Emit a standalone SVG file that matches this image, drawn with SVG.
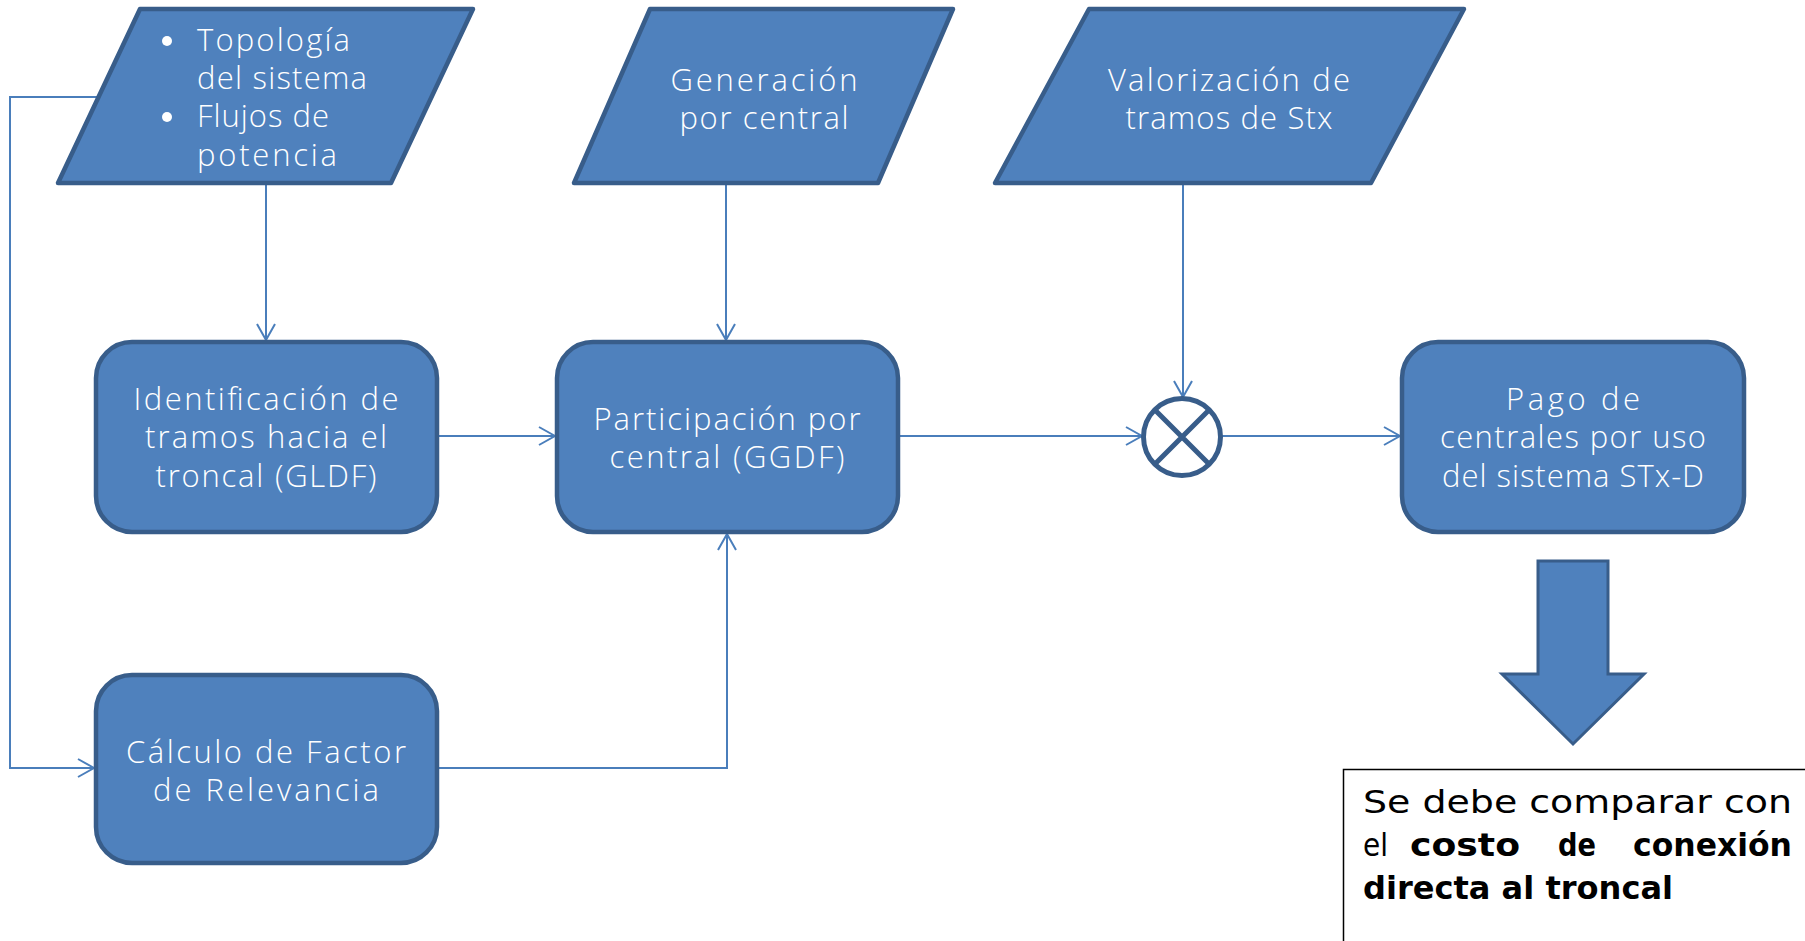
<svg xmlns="http://www.w3.org/2000/svg" width="1805" height="941" viewBox="0 0 1805 941">
  <style>
    .shape { fill: #4F81BD; stroke: #385D8A; stroke-width: 4.5; stroke-linejoin: round; }
    .lbl { font-family: "Open Sans", "Liberation Sans", sans-serif; font-weight: 300; font-size: 31px; fill: #FFFFFF; }
    .mid { text-anchor: middle; }
    .dot { fill: #FFFFFF; }
    .wire { fill: none; stroke: #4A7EBB; stroke-width: 2; }
    .note { font-family: "DejaVu Sans", "Liberation Sans", sans-serif; font-size: 32px; fill: #000000; }
    .b { font-weight: bold; }
  </style>
  <defs>
    <marker id="open" markerUnits="userSpaceOnUse" markerWidth="20" markerHeight="22" viewBox="0 0 20 22" refX="18" refY="11" orient="auto">
      <path d="M2,2 L18,11 L2,20" fill="none" stroke="#4A7EBB" stroke-width="2"/>
    </marker>
  </defs>

  <!-- connectors -->
  <g id="connectors">
    <path class="wire" d="M266,183 V340" marker-end="url(#open)"/>
    <path class="wire" d="M726,183 V340" marker-end="url(#open)"/>
    <path class="wire" d="M1183,183 V397" marker-end="url(#open)"/>
    <path class="wire" d="M437,436 H555" marker-end="url(#open)"/>
    <path class="wire" d="M898,436 H1142" marker-end="url(#open)"/>
    <path class="wire" d="M1221,436 H1400" marker-end="url(#open)"/>
    <path class="wire" d="M98,97 H10 V768 H94" marker-end="url(#open)"/>
    <path class="wire" d="M437,768 H727 V534" marker-end="url(#open)"/>
  </g>

  <!-- input: topology and power flows -->
  <g id="in-topologia">
    <polygon class="shape" points="140,9 473,9 391,183 58,183"/>
    <circle class="dot" cx="167" cy="41" r="5"/>
    <text class="lbl" x="197" y="51" textLength="153">Topología</text>
    <text class="lbl" x="197" y="89" textLength="170">del sistema</text>
    <circle class="dot" cx="167" cy="117" r="5"/>
    <text class="lbl" x="197" y="127" textLength="132">Flujos de</text>
    <text class="lbl" x="197" y="166" textLength="140">potencia</text>
  </g>

  <!-- input: generation per plant -->
  <g id="in-generacion">
    <polygon class="shape" points="650,9 953,9 878,183 574,183"/>
    <text class="lbl mid" x="764" y="91" textLength="187">Generación</text>
    <text class="lbl mid" x="764" y="129" textLength="169">por central</text>
  </g>

  <!-- input: valuation of Stx segments -->
  <g id="in-valorizacion">
    <polygon class="shape" points="1089,9 1464,9 1371,183 995,183"/>
    <text class="lbl mid" x="1229" y="91" textLength="242">Valorización de</text>
    <text class="lbl mid" x="1229" y="129" textLength="207">tramos de Stx</text>
  </g>

  <g id="gldf">
    <rect class="shape" x="96" y="342" width="341" height="190" rx="36" ry="36"/>
    <text class="lbl mid" x="266" y="410" textLength="265">Identificación de</text>
    <text class="lbl mid" x="266" y="448" textLength="242">tramos hacia el</text>
    <text class="lbl mid" x="266" y="487" textLength="221">troncal (GLDF)</text>
  </g>

  <g id="ggdf">
    <rect class="shape" x="557" y="342" width="341" height="190" rx="36" ry="36"/>
    <text class="lbl mid" x="727" y="430" textLength="267">Participación por</text>
    <text class="lbl mid" x="727" y="468" textLength="235">central (GGDF)</text>
  </g>

  <g id="producto">
    <circle cx="1182" cy="437" r="38.5" fill="#FFFFFF" stroke="#385D8A" stroke-width="5"/>
    <path d="M1155,410 L1209,464 M1209,410 L1155,464" stroke="#385D8A" stroke-width="5"/>
  </g>

  <g id="pago">
    <rect class="shape" x="1402" y="342" width="342" height="190" rx="36" ry="36"/>
    <text class="lbl mid" x="1573" y="410" textLength="134">Pago de</text>
    <text class="lbl mid" x="1573" y="448" textLength="266">centrales por uso</text>
    <text class="lbl mid" x="1573" y="487" textLength="262">del sistema STx-D</text>
  </g>

  <g id="relevancia">
    <rect class="shape" x="96" y="675" width="341" height="188" rx="36" ry="36"/>
    <text class="lbl mid" x="266" y="763" textLength="280">Cálculo de Factor</text>
    <text class="lbl mid" x="266" y="801" textLength="226">de Relevancia</text>
  </g>

  <!-- block arrow down to the note -->
  <g id="flecha">
    <polygon points="1538,561 1608,561 1608,674 1644,674 1573,744 1502,674 1538,674" fill="#4F81BD" stroke="#385D8A" stroke-width="3" stroke-linejoin="miter"/>
  </g>

  <g id="nota">
    <rect x="1343.5" y="769.5" width="520" height="260" fill="#FFFFFF" stroke="#000000" stroke-width="1.5"/>
    <text class="note" x="1363" y="813" textLength="429" lengthAdjust="spacingAndGlyphs">Se debe comparar con</text>
    <text class="note" y="856">
      <tspan x="1363" textLength="25" lengthAdjust="spacingAndGlyphs">el</tspan>
      <tspan class="b" x="1410" textLength="110" lengthAdjust="spacingAndGlyphs">costo</tspan>
      <tspan class="b" x="1558" textLength="38" lengthAdjust="spacingAndGlyphs">de</tspan>
      <tspan class="b" x="1633" textLength="159" lengthAdjust="spacingAndGlyphs">conexión</tspan>
    </text>
    <text class="note b" x="1363" y="899" textLength="310" lengthAdjust="spacingAndGlyphs">directa al troncal</text>
  </g>
</svg>
